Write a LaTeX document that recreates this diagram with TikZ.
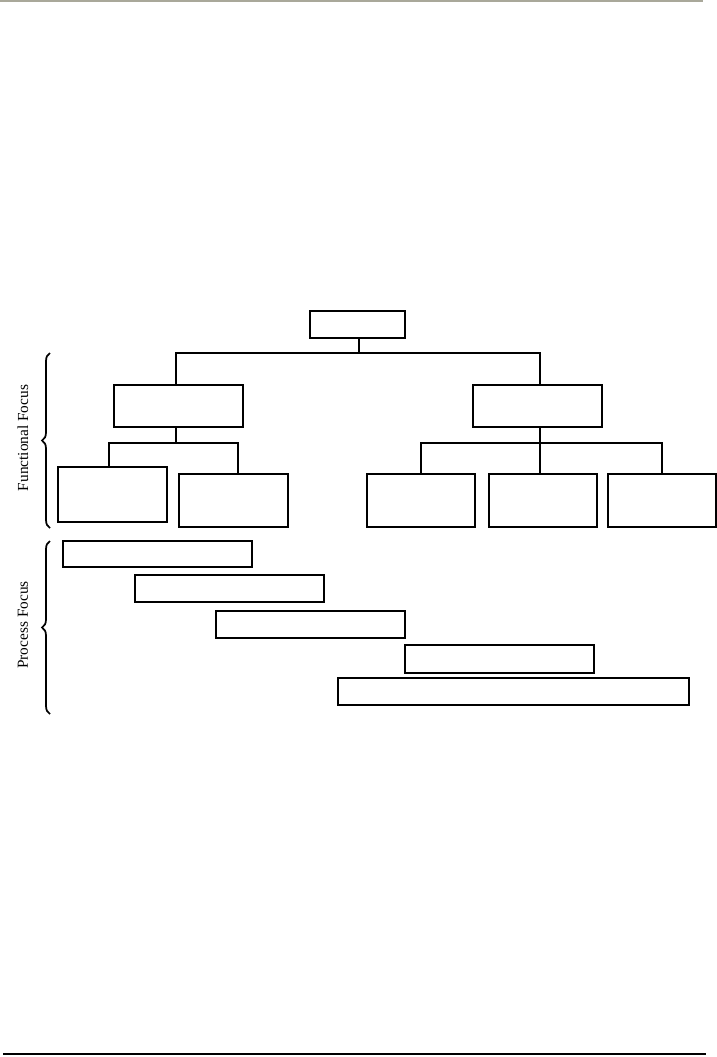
\documentclass[tikz,border=0pt]{standalone}
\usepackage{fontspec}
\setmainfont{Liberation Serif}
\usepackage{xcolor}
\usepackage{tikz}
\usetikzlibrary{decorations.pathreplacing}
\definecolor{rulegray}{HTML}{A9A89A}

\begin{document}
\begin{tikzpicture}[
  x=0.75pt,y=-0.75pt,
  box/.style={draw,line width=1.5pt,minimum width=#1,minimum height=40,inner sep=0pt},
  link/.style={line width=1.5pt},
  focusbrace/.style={decorate,decoration={brace,amplitude=6pt},line width=1.3pt},
  focuslabel/.style={rotate=90,font=\fontsize{11.5}{13}\selectfont}
]
\useasboundingbox (0,0) rectangle (717,1057);
\draw[rulegray,line width=2pt] (0,1) -- (703,1);
\draw[line width=1.5pt] (3,1054) -- (706,1054);

% functional tree
\node[box=71,minimum height=20] (top) at (357.5,324.5) {};
\node[box=97,minimum height=31] (lmid) at (178.5,406) {};
\node[box=97,minimum height=31] (rmid) at (537.5,406) {};
\node[box=82,minimum height=41] (l1) at (112.5,494.5) {};
\node[box=82] (l2) at (233.5,500.5) {};
\node[box=81] (r1) at (421,500.5) {};
\node[box=81] (r2) at (543,500.5) {};
\node[box=81] (r3) at (662,500.5) {};

\coordinate (j1) at (359,353);
\coordinate (j2) at (176,443);
\coordinate (j3) at (540,443);
\draw[link] (j1 |- top.south) -- (j1);
\draw[link] (j2 |- lmid.north) |- (j1) -| (j3 |- rmid.north);
\draw[link] (j2 |- lmid.south) -- (j2);
\draw[link] ([xshift=-3]l1.north) |- (j2) -| ([xshift=3]l2.north);
\draw[link] (j3 |- rmid.south) -- (j3);
\draw[link] (r1.north) |- (j3) -| (r3.north);
\draw[link] (j3) -- (j3 |- r2.north);

% process bars
\node[box=142,minimum height=19] (p1) at (157.5,554) {};
\node[box=142,minimum height=20] (p2) at (229.5,588.5) {};
\node[box=142,minimum height=20] (p3) at (310.5,624.5) {};
\node[box=142,minimum height=21] (p4) at (499.5,659) {};
\node[box=263,minimum height=20] (p5) at (513.5,691.5) {};

% braces and labels
\coordinate (fb1) at (50,528);
\coordinate (fb2) at (50,353);
\coordinate (pb1) at (50,714);
\coordinate (pb2) at (50,541);
\draw[focusbrace] (fb1) -- (fb2);
\draw[focusbrace] (pb1) -- (pb2);
\node[focuslabel] (flab) at (23,438) {Functional Focus};
\node[focuslabel] (plab) at (23,625) {Process Focus};
\end{tikzpicture}
\end{document}
